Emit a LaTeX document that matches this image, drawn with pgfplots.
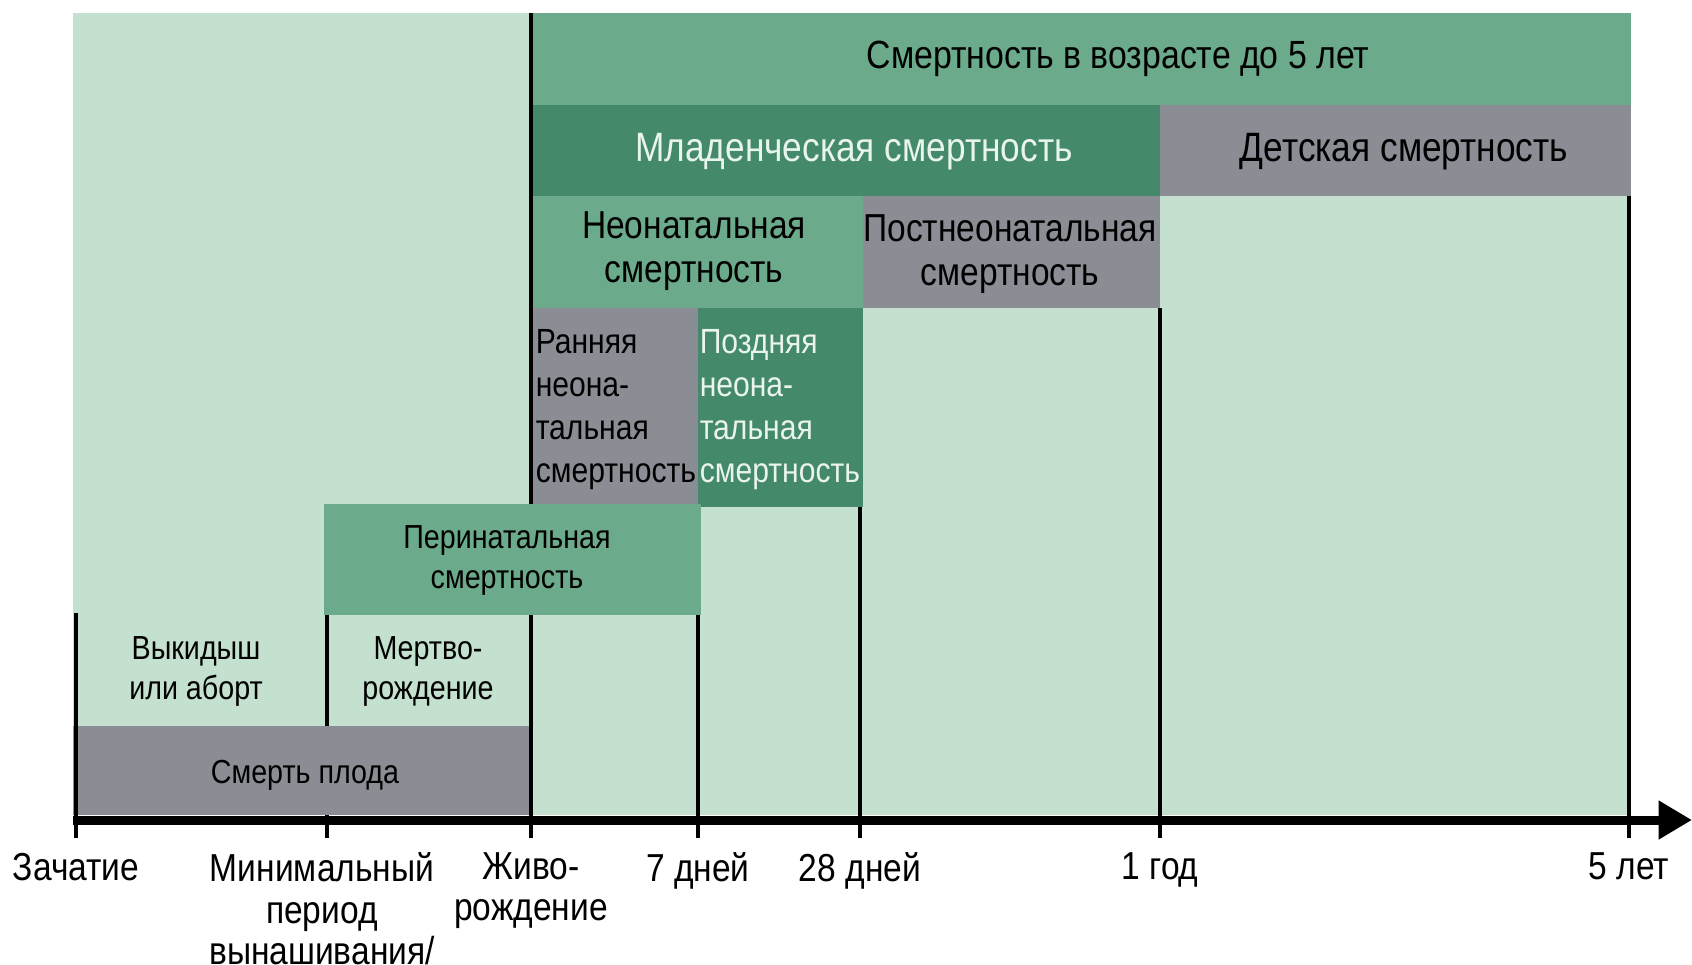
\documentclass[border=0pt]{standalone}
\usepackage{pgfplots}
\pgfplotsset{compat=1.18}
\usepackage{fontspec}
\setmainfont[FakeStretch=0.86]{Liberation Sans}
\usetikzlibrary{arrows.meta}
\definecolor{bglight}{HTML}{C4E0CE}
\definecolor{midgreen}{HTML}{6BAA8A}
\definecolor{darkgreen}{HTML}{43896A}
\definecolor{greyb}{HTML}{8A8E94}
\definecolor{txtdark}{HTML}{1B2620}
\definecolor{txtlight}{HTML}{E8F4EC}
\begin{document}
\begin{tikzpicture}
\begin{axis}[
  scale only axis, width=507.6pt, height=289.2pt,
  xmin=0, xmax=1692, ymin=0, ymax=964, y dir=reverse,
  hide axis, clip=false,
  every node/.style={font=\fontsize{10.5}{12.9}\selectfont, text=txtdark, inner sep=0pt},
]
% boxes
\addplot[fill=bglight, draw=none] coordinates {(73,13) (1631,13) (1631,815) (73,815)} -- cycle;
\addplot[fill=midgreen, draw=none] coordinates {(531,13) (1631,13) (1631,105) (531,105)} -- cycle;
\addplot[fill=darkgreen, draw=none] coordinates {(531,105) (1160,105) (1160,196) (531,196)} -- cycle;
\addplot[fill=greyb, draw=none] coordinates {(1160,105) (1631,105) (1631,196) (1160,196)} -- cycle;
\addplot[fill=midgreen, draw=none] coordinates {(531,196) (863,196) (863,308) (531,308)} -- cycle;
\addplot[fill=greyb, draw=none] coordinates {(863,196) (1160,196) (1160,308) (863,308)} -- cycle;
\addplot[fill=greyb, draw=none] coordinates {(531,308) (698,308) (698,507) (531,507)} -- cycle;
\addplot[fill=darkgreen, draw=none] coordinates {(698,308) (863,308) (863,507) (698,507)} -- cycle;
\addplot[fill=greyb, draw=none] coordinates {(73,726) (531,726) (531,815) (73,815)} -- cycle;
% vertical lines
\addplot[black, line width=1.3pt] coordinates {(76,613) (76,838)};
\addplot[black, line width=1.3pt] coordinates {(327,615) (327,726)};
\addplot[black, line width=1.3pt] coordinates {(327,815) (327,838)};
\addplot[black, line width=1.3pt] coordinates {(531,13) (531,838)};
\addplot[black, line width=1.3pt] coordinates {(698,615) (698,838)};
\addplot[black, line width=1.3pt] coordinates {(860,507) (860,838)};
\addplot[black, line width=1.3pt] coordinates {(1160,308) (1160,838)};
\addplot[black, line width=1.3pt] coordinates {(1629,196) (1629,838)};
% perinatal box drawn over the birth line
\addplot[fill=midgreen, draw=none] coordinates {(324,504) (701,504) (701,615) (324,615)} -- cycle;
% time axis
\addplot[black, line width=2.7pt, -{Triangle[length=10pt,width=11pt]}] coordinates {(73,820) (1692,820)};
% box labels
\node[font=\fontsize{11.8}{14}\selectfont] at (axis cs:1118,59) {Смертность в возрасте до 5 лет};
\node[font=\fontsize{12.3}{14}\selectfont, text=txtlight] at (axis cs:854,152) {Младенческая смертность};
\node[font=\fontsize{12.3}{14}\selectfont] at (axis cs:1404,152) {Детская смертность};
\node[font=\fontsize{11.7}{13.2}\selectfont, align=center] at (axis cs:694,251) {Неонатальная\\смертность};
\node[font=\fontsize{11.7}{13.2}\selectfont, align=center] at (axis cs:1010,254) {Постнеонатальная\\смертность};
\node[font=\fontsize{10.5}{12.9}\selectfont, align=left, anchor=west] at (axis cs:524,410) {Ранняя\\неона-\\тальная\\смертность};
\node[font=\fontsize{10.5}{12.9}\selectfont, align=left, anchor=west, text=txtlight] at (axis cs:688,410) {Поздняя\\неона-\\тальная\\смертность};
\node[align=center] at (axis cs:507,560) {Перинатальная\\смертность};
\node[align=center] at (axis cs:196,671) {Выкидыш\\или аборт};
\node[align=center] at (axis cs:428,671) {Мертво-\\рождение};
\node at (axis cs:305,775) {Смерть плода};
% axis labels
\begin{scope}[every node/.append style={font=\fontsize{11.7}{12.4}\selectfont}]
\node[anchor=north] at (axis cs:76,841) {Зачатие};
\node[anchor=north, align=center] at (axis cs:322,841) {Минимальный\\период\\вынашивания/};
\node[anchor=north, align=center] at (axis cs:531,841) {Живо-\\рождение};
\node[anchor=north] at (axis cs:698,841) {7 дней};
\node[anchor=north] at (axis cs:860,841) {28 дней};
\node[anchor=north] at (axis cs:1160,841) {1 год};
\node[anchor=north] at (axis cs:1629,841) {5 лет};
\end{scope}
\end{axis}
\pgfresetboundingbox
\path[use as bounding box] (current axis.south west) rectangle (current axis.north east);
\end{tikzpicture}
\end{document}
